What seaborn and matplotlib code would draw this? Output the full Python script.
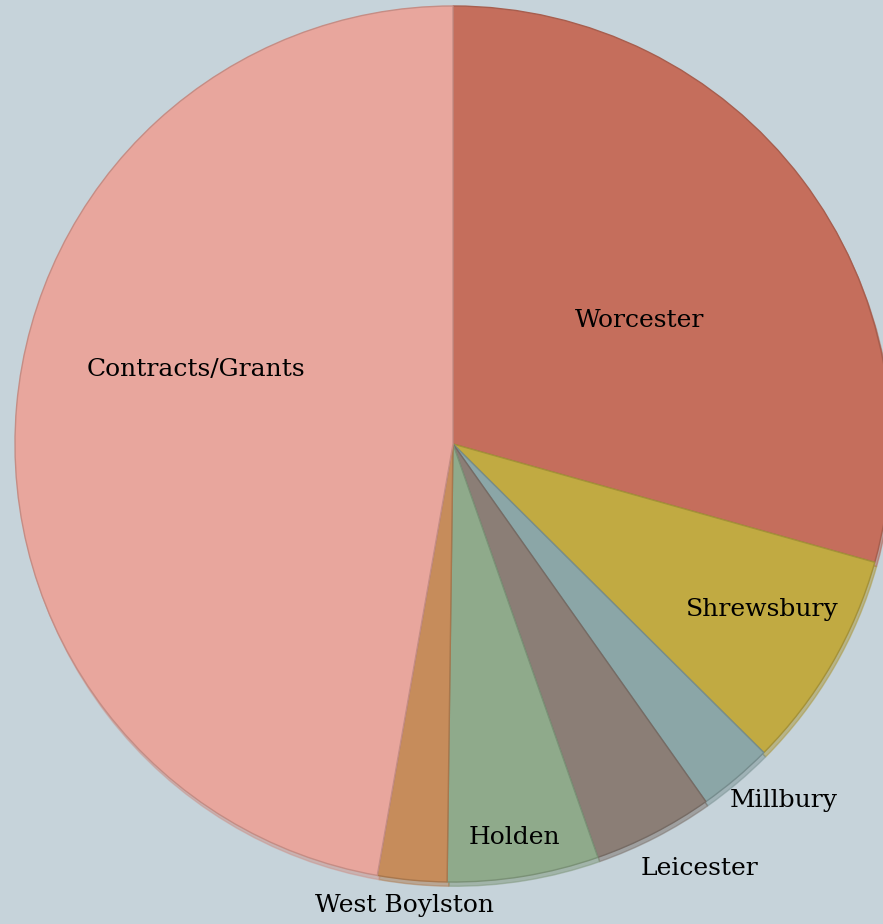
#!/usr/bin/env python3
"""
Revenue share pie chart (Worcester region), recreated with seaborn/matplotlib.
"""

import matplotlib

matplotlib.use("Agg")
import matplotlib.pyplot as plt
import numpy as np
import seaborn as sns
from matplotlib.colors import to_rgb


SOURCES = [
    "Worcester",
    "Shrewsbury",
    "Millbury",
    "Leicester",
    "Holden",
    "West Boylston",
    "Contracts/Grants",
]
SHARES = [29.35, 8.09, 2.76, 4.43, 5.58, 2.55, 47.23]
COLORS = ["#C56E5C", "#C1AA42", "#8BA6A7", "#8B7E76", "#8FAA8B", "#C68C5B", "#E8A69D"]

# label placement: (radius fraction, angle in degrees), layout only
LABEL_POS = [
    (0.51, 33.5),
    (0.80, -28.1),
    (1.11, -47.2),
    (1.12, -59.9),
    (0.91, -81.2),
    (1.06, -96.0),
    (0.61, 163.9),
]

BG = "#C6D3DA"


def darker(color, factor=0.8):
    r, g, b = to_rgb(color)
    return (r * factor, g * factor, b * factor)


def main() -> None:
    sns.set_theme(style="white")
    plt.rcParams["font.family"] = ["DejaVu Serif"]
    palette = sns.color_palette(COLORS)

    fig = plt.figure(figsize=(8.83, 9.24), dpi=100, facecolor=BG)
    ax = fig.add_axes([15 / 883, 42 / 924, 876 / 883, 876 / 924])
    ax.set_facecolor(BG)

    wedges, _ = ax.pie(
        SHARES,
        colors=palette,
        startangle=90,
        counterclock=False,
        radius=1.0,
        shadow={"ox": 0.003, "oy": -0.007, "shade": 0.12},
        wedgeprops={"linewidth": 1.0},
    )
    for w, c in zip(wedges, COLORS):
        w.set_edgecolor(darker(c, 0.85))

    for name, (r, ang) in zip(SOURCES, LABEL_POS):
        t = np.deg2rad(ang)
        ax.text(
            r * np.cos(t),
            r * np.sin(t),
            name,
            ha="center",
            va="center",
            fontsize=18,
            color="black",
        )

    ax.set_xlim(-1, 1)
    ax.set_ylim(-1, 1)
    ax.set_aspect("equal")
    ax.axis("off")
    fig.savefig("out.png", dpi=100, facecolor=BG)
    plt.close(fig)


if __name__ == "__main__":
    main()
